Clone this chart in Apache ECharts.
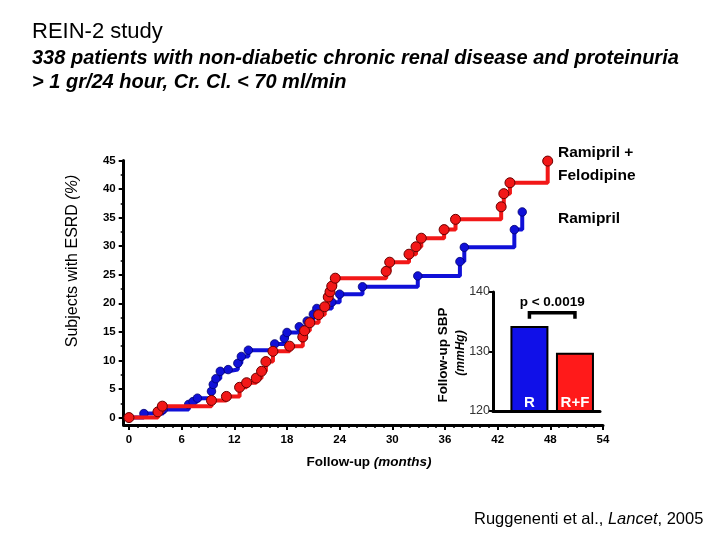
<!DOCTYPE html>
<html>
<head>
<meta charset="utf-8">
<script src="https://cdn.jsdelivr.net/npm/echarts@6/dist/echarts.min.js"></script>
<style>html,body{margin:0;padding:0;background:#fff}#c{width:720px;height:540px}</style>
</head>
<body>
<div id="c"></div>
<script>
// ---- data ----
var xTicks = [0, 6, 12, 18, 24, 30, 36, 42, 48, 54];
var yTicks = [0, 5, 10, 15, 20, 25, 30, 35, 40, 45];
var sbpTicks = [120, 130, 140];

var ramMonths = [0, 1.7, 3.9, 6.8, 7.3, 7.8, 9.4, 9.6, 9.9, 10.4, 11.3, 12.4, 12.8, 13.6, 16.6, 17.7, 18.0, 19.4, 20.3, 21.0, 21.4, 23.1, 24.0, 26.6, 32.9, 37.7, 38.2, 43.9, 44.8];
var ramESRD   = [0, 0.7, 1.4, 2.3, 2.8, 3.4, 4.6, 5.8, 6.8, 8.1, 8.4, 9.5, 10.7, 11.8, 12.9, 13.9, 14.9, 15.9, 16.9, 18.1, 19.1, 20.2, 21.6, 22.9, 24.8, 27.3, 29.8, 32.9, 36.0];

var rfMonths = [0, 3.3, 3.8, 9.4, 11.1, 12.6, 13.4, 14.5, 15.1, 15.6, 16.4, 18.3, 19.8, 20.0, 20.6, 21.6, 22.3, 22.7, 22.9, 23.1, 23.5, 29.3, 29.7, 31.9, 32.7, 33.3, 35.9, 37.2, 42.4, 42.7, 43.4, 47.7];
var rfESRD   = [0, 1.0, 2.0, 3.0, 3.7, 5.3, 6.1, 6.9, 8.1, 9.8, 11.6, 12.5, 14.1, 15.2, 16.6, 18.0, 19.4, 21.1, 22.0, 23.0, 24.4, 25.6, 27.2, 28.6, 29.9, 31.4, 32.9, 34.7, 36.9, 39.2, 41.1, 44.9];

var sbpGroups = ['R', 'R+F'];
var sbpValues = [134.3, 129.8];
var pText = 'p < 0.0019';
var bracketLevel = 136.5;

// ---- build ----
function pairs(xs, ys) { return xs.map(function (x, i) { return [x, ys[i]]; }); }
function minors(ticks, n) {
  var out = [];
  for (var i = 0; i < ticks.length - 1; i++) {
    var step = (ticks[i + 1] - ticks[i]) / n;
    for (var k = 1; k < n; k++) out.push(ticks[i] + step * k);
  }
  return out;
}
var FONT = '"Liberation Sans", Arial, sans-serif';
var BLUE = '#1010d8', RED = '#f21818';
var G = { left: 123.7, top: 160.5, width: 479.3, height: 264.5 };

var chart = echarts.init(document.getElementById('c'), null, { renderer: 'canvas' });

var option = {
  animation: false,
  backgroundColor: '#fff',
  textStyle: { fontFamily: FONT },
  grid: [
    G,
    { left: 493, top: 292, width: 107, height: 119 }
  ],
  xAxis: [
    { gridIndex: 0, type: 'value', position: 'bottom', min: -0.6, max: 54,
      axisLine: { show: true, onZero: false, lineStyle: { color: '#000', width: 3 } },
      axisTick: { show: true, customValues: xTicks, length: 5, lineStyle: { color: '#000', width: 2 } },
      axisLabel: { customValues: xTicks, margin: 9, color: '#000', fontWeight: 'bold', fontSize: 11.5, fontFamily: FONT },
      splitLine: { show: false } },
    // minor ticks: top axis moved down onto the bottom edge
    { gridIndex: 0, type: 'value', position: 'top', offset: -G.height, min: -0.6, max: 54,
      axisLine: { show: false, onZero: false },
      axisTick: { show: true, inside: true, customValues: minors(xTicks, 6), length: 3, lineStyle: { color: '#000', width: 1.5 } },
      axisLabel: { show: false }, splitLine: { show: false } },
    { gridIndex: 1, type: 'value', min: 0.2, max: 2.55,
      axisLine: { show: true, onZero: false, lineStyle: { color: '#000', width: 3 } },
      axisTick: { show: false }, axisLabel: { show: false }, splitLine: { show: false } }
  ],
  yAxis: [
    { gridIndex: 0, type: 'value', position: 'left', min: -1.3, max: 45,
      axisLine: { show: true, onZero: false, lineStyle: { color: '#000', width: 3 } },
      axisTick: { show: true, customValues: yTicks, length: 5, lineStyle: { color: '#000', width: 2 } },
      axisLabel: { customValues: yTicks, margin: 8, color: '#000', fontWeight: 'bold', fontSize: 11.5, fontFamily: FONT },
      splitLine: { show: false } },
    // minor ticks: right axis moved onto the left edge
    { gridIndex: 0, type: 'value', position: 'right', offset: -G.width, min: -1.3, max: 45,
      axisLine: { show: false, onZero: false },
      axisTick: { show: true, inside: true, customValues: minors(yTicks, 2), length: 3, lineStyle: { color: '#000', width: 1.5 } },
      axisLabel: { show: false }, splitLine: { show: false } },
    { gridIndex: 1, type: 'value', min: 120, max: 140, interval: 10,
      axisLine: { show: true, onZero: false, lineStyle: { color: '#000', width: 3 } },
      axisTick: { show: true, length: 4, lineStyle: { color: '#000', width: 2 } },
      axisLabel: { margin: 3, color: '#333', fontSize: 12.5, fontFamily: FONT },
      splitLine: { show: false } }
  ],
  series: [
    { name: 'Ramipril', type: 'line', xAxisIndex: 0, yAxisIndex: 0, step: 'end',
      data: pairs(ramMonths, ramESRD), showAllSymbol: true,
      symbol: 'circle', symbolSize: 8.5,
      lineStyle: { color: BLUE, width: 4 },
      itemStyle: { color: BLUE, borderColor: '#000070', borderWidth: 0.8 }, z: 3 },
    { name: 'Ramipril + Felodipine', type: 'line', xAxisIndex: 0, yAxisIndex: 0, step: 'end',
      data: pairs(rfMonths, rfESRD), showAllSymbol: true,
      symbol: 'circle', symbolSize: 10,
      lineStyle: { color: RED, width: 4 },
      itemStyle: { color: RED, borderColor: '#6a0000', borderWidth: 1 }, z: 4 },
    { name: 'SBP', type: 'bar', xAxisIndex: 2, yAxisIndex: 2, barWidth: 38,
      data: sbpValues.map(function (v, i) {
        return { value: [i + 1, v], itemStyle: { color: i === 0 ? '#1010e8' : '#ff1a1a' } };
      }),
      itemStyle: { borderColor: '#000', borderWidth: 2 },
      label: { show: true, position: 'insideBottom', distance: 2, color: '#fff', fontWeight: 'bold', fontSize: 15, fontFamily: FONT,
        formatter: function (p) { return sbpGroups[p.dataIndex]; } } },
    { name: 'bracket', type: 'custom', xAxisIndex: 2, yAxisIndex: 2,
      data: [[1, 2, bracketLevel]],
      renderItem: function (params, api) {
        var a = api.coord([api.value(0), api.value(2)]);
        var b = api.coord([api.value(1), api.value(2)]);
        return { type: 'group', children: [
          { type: 'polyline', shape: { points: [[a[0], a[1] + 6], [a[0], a[1]], [b[0], b[1]], [b[0], b[1] + 6]] },
            style: { stroke: '#000', lineWidth: 3.5, fill: null } },
          { type: 'text', x: (a[0] + b[0]) / 2, y: a[1] - 11,
            style: { text: pText, textAlign: 'center', textVerticalAlign: 'middle', fill: '#000', font: 'bold 13.5px ' + FONT } }
        ] };
      }, z: 5 }
  ],
  graphic: [
    { type: 'text', x: 32, y: 32, style: { text: 'REIN-2 study', fill: '#000', font: '22px ' + FONT, textVerticalAlign: 'middle' } },
    { type: 'text', x: 32, y: 58, style: { text: '338 patients with non-diabetic chronic renal disease and proteinuria', fill: '#000', font: 'italic bold 20px ' + FONT, textVerticalAlign: 'middle' } },
    { type: 'text', x: 32, y: 82, style: { text: '> 1 gr/24 hour, Cr. Cl. < 70 ml/min', fill: '#000', font: 'italic bold 20px ' + FONT, textVerticalAlign: 'middle' } },
    { type: 'text', x: 73, y: 261, rotation: Math.PI / 2,
      style: { text: '{a|Subjects with ESRD }{b|(%)}', textAlign: 'center', textVerticalAlign: 'middle',
        rich: { a: { fontSize: 16, fontFamily: FONT, fill: '#000' }, b: { fontSize: 16, fontStyle: 'italic', fontFamily: FONT, fill: '#000' } } } },
    { type: 'text', x: 369, y: 462,
      style: { text: '{a|Follow-up }{b|(months)}', textAlign: 'center', textVerticalAlign: 'middle',
        rich: { a: { fontSize: 13.5, fontWeight: 'bold', fontFamily: FONT, fill: '#000' }, b: { fontSize: 13.5, fontWeight: 'bold', fontStyle: 'italic', fontFamily: FONT, fill: '#000' } } } },
    { type: 'text', x: 558, y: 153, style: { text: 'Ramipril +', fill: '#000', font: 'bold 15.5px ' + FONT, textVerticalAlign: 'middle' } },
    { type: 'text', x: 558, y: 176, style: { text: 'Felodipine', fill: '#000', font: 'bold 15.5px ' + FONT, textVerticalAlign: 'middle' } },
    { type: 'text', x: 558, y: 219, style: { text: 'Ramipril', fill: '#000', font: 'bold 15.5px ' + FONT, textVerticalAlign: 'middle' } },
    { type: 'text', x: 443, y: 355, rotation: Math.PI / 2,
      style: { text: 'Follow-up SBP', fill: '#000', font: 'bold 13.5px ' + FONT, textAlign: 'center', textVerticalAlign: 'middle' } },
    { type: 'text', x: 461, y: 353, rotation: Math.PI / 2,
      style: { text: '(mmHg)', fill: '#000', font: 'italic bold 12px ' + FONT, textAlign: 'center', textVerticalAlign: 'middle' } },
    { type: 'text', x: 474, y: 519,
      style: { text: '{a|Ruggenenti et al., }{b|Lancet}{a|, 2005}', textVerticalAlign: 'middle',
        rich: { a: { fontSize: 16.5, fontFamily: FONT, fill: '#000' }, b: { fontSize: 16.5, fontStyle: 'italic', fontFamily: FONT, fill: '#000' } } } }
  ]
};
chart.setOption(option);
</script>
</body>
</html>
